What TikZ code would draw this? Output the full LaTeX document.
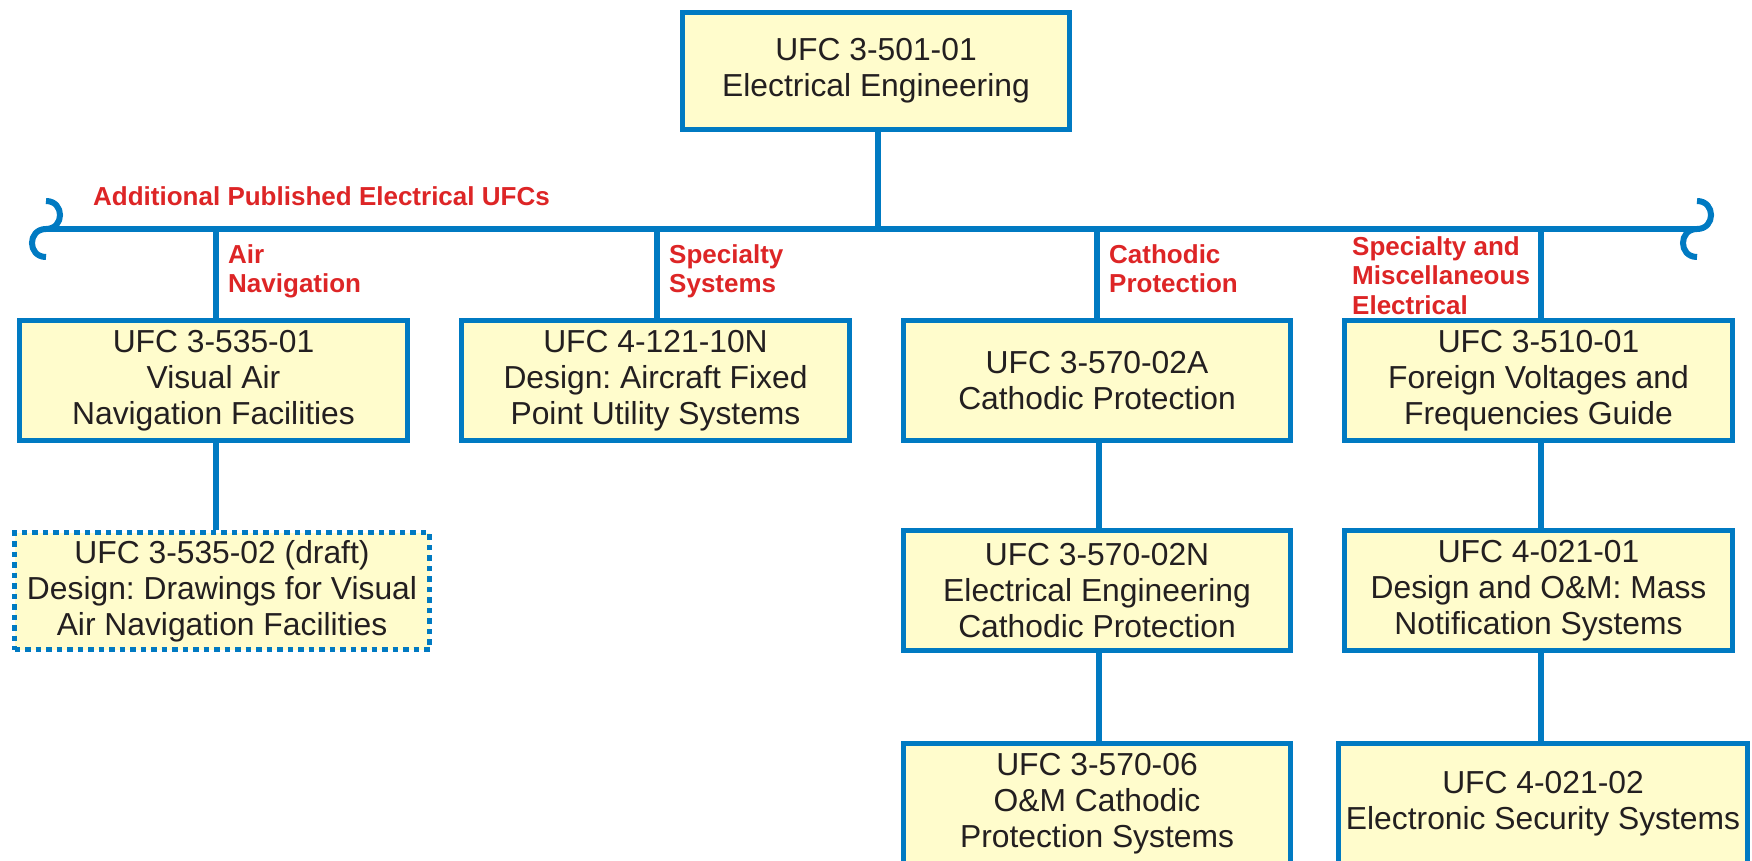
\documentclass[tikz,border=0pt]{standalone}
\usepackage{fontspec}
\setmainfont{Liberation Sans}
\usetikzlibrary{calc}
\definecolor{ufcblue}{RGB}{0,122,194}
\definecolor{ufcfill}{RGB}{255,252,204}
\definecolor{ufcred}{RGB}{221,37,38}
\definecolor{ufctext}{RGB}{35,31,32}
\frenchspacing
\begin{document}
\begin{tikzpicture}[x=1pt,y=-1pt,
  ufcbox/.style={draw=ufcblue, line width=5pt, fill=ufcfill, align=center, text=ufctext,
    font=\fontsize{31.8}{36}\selectfont, inner sep=0pt, minimum width=388pt, minimum height=120pt},
  draftbox/.style={ufcbox, dash pattern=on 5.5pt off 5pt, line width=5.5pt},
  link/.style={draw=ufcblue, line width=6pt},
  cat/.style={text=ufcred, font=\fontsize{26}{29.5}\selectfont\bfseries, align=left, inner sep=0pt, anchor=base west}
]
\useasboundingbox (0,0) rectangle (1752,861);

% category labels (drawn first so boxes cover them); anchor = baseline of last line
\node[cat] (lblall) at (93,205) {Additional Published Electrical UFCs};
\node[cat] (lblair) at (228,292.5) {Air\\Navigation};
\node[cat] (lblspec) at (669,292.5) {Specialty\\Systems};
\node[cat] (lblcath) at (1109,292.5) {Cathodic\\Protection};
\node[cat] (lblmisc) at (1352,314) {Specialty and\\Miscellaneous\\Electrical};

% boxes
\node[ufcbox, minimum width=387pt, minimum height=117pt] (top) at (876,71) {UFC 3-501-01\\Electrical Engineering};
\node[ufcbox] (A) at (213.5,380.5) {UFC 3-535-01\\Visual Air\\Navigation Facilities};
\node[ufcbox] (B) at (655.5,380.5) {UFC 4-121-10N\\Design: Aircraft Fixed\\Point Utility Systems};
\node[ufcbox, minimum width=387pt] (C) at (1097,380.5) {UFC 3-570-02A\\Cathodic Protection};
\node[ufcbox] (D) at (1538.5,380.5) {UFC 3-510-01\\Foreign Voltages and\\Frequencies Guide};
\node[draftbox, minimum width=415pt, minimum height=117pt] (A2) at (222,591) {UFC 3-535-02 (draft)\\Design: Drawings for Visual\\Air Navigation Facilities};
\node[ufcbox, minimum width=387pt] (C2) at (1097,590.5) {UFC 3-570-02N\\Electrical Engineering\\Cathodic Protection};
\node[ufcbox] (D2) at (1538.5,590.5) {UFC 4-021-01\\Design and O\&M: Mass\\Notification Systems};
\node[ufcbox, minimum width=387pt] (C3) at (1097,803.5) {UFC 3-570-06\\O\&M Cathodic\\Protection Systems};
\node[ufcbox, minimum width=409pt] (D3) at (1543,803.5) {UFC 4-021-02\\Electronic Security Systems};

% bus with curly ends
\coordinate (busL) at (46,229);
\coordinate (busR) at (1697,229);
\draw[link] (busL) -- (busR);
\draw[link] ($(busL)+(0,-28)$) .. controls ($(busL)+(18.7,-28)$) and ($(busL)+(18.7,0)$) .. (busL)
  .. controls ($(busL)+(-18.7,0)$) and ($(busL)+(-18.7,28)$) .. ($(busL)+(0,28)$);
\draw[link] ($(busR)+(0,-28)$) .. controls ($(busR)+(18.7,-28)$) and ($(busR)+(18.7,0)$) .. (busR)
  .. controls ($(busR)+(-18.7,0)$) and ($(busR)+(-18.7,28)$) .. ($(busR)+(0,28)$);

% connectors
\draw[link] ([xshift=2pt]top.south) -- ([xshift=2pt]top.south |- busL);
\draw[link] ([xshift=2.5pt]A.north |- busL) -- ([xshift=2.5pt]A.north);
\draw[link] ([xshift=1.5pt]B.north |- busL) -- ([xshift=1.5pt]B.north);
\draw[link] (C.north |- busL) -- (C.north);
\draw[link] ([xshift=2.5pt]D.north |- busL) -- ([xshift=2.5pt]D.north);
\draw[link] ([xshift=2.5pt]A.south) -- ([xshift=2.5pt]A.south |- A2.north);
\draw[link] ([xshift=1.5pt]C.south) -- ([xshift=1.5pt]C2.north);
\draw[link] ([xshift=1.5pt]C2.south) -- ([xshift=1.5pt]C3.north);
\draw[link] ([xshift=2.5pt]D.south) -- ([xshift=2.5pt]D2.north);
\draw[link] ([xshift=2.5pt]D2.south) -- ([xshift=2.5pt]D2.south |- D3.north);
\end{tikzpicture}
\end{document}
